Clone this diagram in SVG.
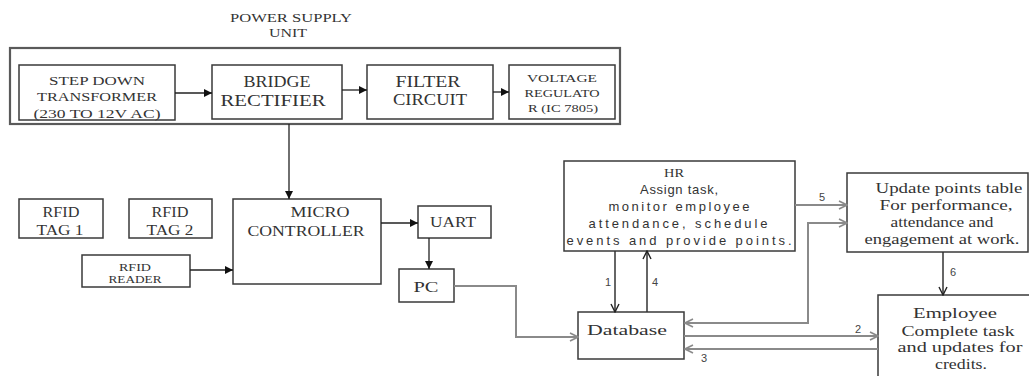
<svg xmlns="http://www.w3.org/2000/svg" width="1029" height="376" viewBox="0 0 1029 376">
<defs>
<style>
.box{fill:#fff;stroke:#3a3a3a;stroke-width:1.5}
.outer{fill:none;stroke:#5a5a5a;stroke-width:2.2}
.s{font-family:"Liberation Serif","DejaVu Serif","Times New Roman",serif;fill:#333;text-anchor:middle}
.a{font-family:"Liberation Sans","DejaVu Sans",Arial,sans-serif;fill:#333;text-anchor:middle}
.k{fill:none;stroke:#222;stroke-width:1.3}
.g{fill:none;stroke:#8a8a8a;stroke-width:2}
.gk{fill:none;stroke:#333;stroke-width:1.5}
.lbl{font-family:"Liberation Sans",Arial,sans-serif;font-size:11px;fill:#444;text-anchor:middle}
</style>
<marker id="tri" viewBox="0 0 10 10" refX="10" refY="5" markerWidth="9" markerHeight="8" markerUnits="userSpaceOnUse" orient="auto">
<path d="M0,0 L10,5 L0,10 z" fill="#111"/>
</marker>
<marker id="vg" viewBox="0 0 10 10" refX="9" refY="5" markerWidth="10" markerHeight="10" markerUnits="userSpaceOnUse" orient="auto-start-reverse">
<path d="M1,1 L9,5 L1,9" fill="none" stroke="#8a8a8a" stroke-width="1.6"/>
</marker>
<marker id="vk" viewBox="0 0 10 10" refX="9" refY="5" markerWidth="10" markerHeight="10" markerUnits="userSpaceOnUse" orient="auto">
<path d="M1,1 L9,5 L1,9" fill="none" stroke="#222" stroke-width="1.4"/>
</marker>
</defs>
<rect width="1029" height="376" fill="#fff"/>

<g id="psu">
<text class="s" x="291" y="22" font-size="12" textLength="122" lengthAdjust="spacingAndGlyphs">POWER SUPPLY</text>
<text class="s" x="288" y="37" font-size="12" textLength="38" lengthAdjust="spacingAndGlyphs">UNIT</text>
<rect class="outer" x="10" y="48" width="610" height="76"/>
</g>
<g id="stepdown">
<rect class="box" x="19" y="65" width="156" height="55"/>
<text class="s" x="97" y="85" font-size="13" textLength="96" lengthAdjust="spacingAndGlyphs">STEP DOWN</text>
<text class="s" x="97" y="101" font-size="13" textLength="120" lengthAdjust="spacingAndGlyphs">TRANSFORMER</text>
<text class="s" x="97" y="118" font-size="13" textLength="127" lengthAdjust="spacingAndGlyphs">(230 TO 12V AC)</text>
</g>
<g id="bridge">
<rect class="box" x="212" y="65" width="130" height="54"/>
<text class="s" x="277" y="87" font-size="16" textLength="67" lengthAdjust="spacingAndGlyphs">BRIDGE</text>
<text class="s" x="273" y="106" font-size="16" textLength="105" lengthAdjust="spacingAndGlyphs">RECTIFIER</text>
</g>
<g id="filter">
<rect class="box" x="367" y="65" width="126" height="54"/>
<text class="s" x="428" y="87" font-size="16" textLength="65" lengthAdjust="spacingAndGlyphs">FILTER</text>
<text class="s" x="430" y="105" font-size="16" textLength="74" lengthAdjust="spacingAndGlyphs">CIRCUIT</text>
</g>
<g id="regulator">
<rect class="box" x="509" y="65" width="106" height="54"/>
<text class="s" x="562" y="82" font-size="11" textLength="70" lengthAdjust="spacingAndGlyphs">VOLTAGE</text>
<text class="s" x="562" y="97" font-size="11" textLength="75" lengthAdjust="spacingAndGlyphs">REGULATO</text>
<text class="s" x="563" y="112" font-size="11" textLength="70" lengthAdjust="spacingAndGlyphs">R (IC 7805)</text>
</g>
<g id="tag1">
<rect class="box" x="19" y="199" width="84" height="39"/>
<text class="s" x="61" y="217" font-size="14" textLength="37" lengthAdjust="spacingAndGlyphs">RFID</text>
<text class="s" x="60" y="235" font-size="14" textLength="47" lengthAdjust="spacingAndGlyphs">TAG 1</text>
</g>
<g id="tag2">
<rect class="box" x="129" y="199" width="83" height="39"/>
<text class="s" x="170" y="217" font-size="14" textLength="37" lengthAdjust="spacingAndGlyphs">RFID</text>
<text class="s" x="170" y="235" font-size="14" textLength="47" lengthAdjust="spacingAndGlyphs">TAG 2</text>
</g>
<g id="reader">
<rect class="box" x="82" y="255" width="108" height="32"/>
<text class="s" x="135" y="271" font-size="10" textLength="32" lengthAdjust="spacingAndGlyphs">RFID</text>
<text class="s" x="135" y="283" font-size="10" textLength="53" lengthAdjust="spacingAndGlyphs">READER</text>
</g>
<g id="micro">
<rect class="box" x="233" y="199" width="148" height="85"/>
<text class="s" x="320" y="217" font-size="15" textLength="59" lengthAdjust="spacingAndGlyphs">MICRO</text>
<text class="s" x="306" y="236" font-size="15" textLength="117" lengthAdjust="spacingAndGlyphs">CONTROLLER</text>
</g>
<g id="uart">
<rect class="box" x="418" y="206" width="73" height="32"/>
<text class="s" x="453" y="227" font-size="14" textLength="46" lengthAdjust="spacingAndGlyphs">UART</text>
</g>
<g id="pc">
<rect class="box" x="399" y="269" width="55" height="33"/>
<text class="s" x="426" y="292" font-size="14" textLength="25" lengthAdjust="spacingAndGlyphs">PC</text>
</g>
<g id="database">
<rect class="box" x="578" y="312" width="106" height="47"/>
<text class="s" x="627" y="335" font-size="14" textLength="80" lengthAdjust="spacingAndGlyphs">Database</text>
</g>
<g id="hr">
<rect class="box" x="564" y="161" width="231" height="90"/>
<text class="s" x="674" y="177" font-size="12" textLength="20" lengthAdjust="spacingAndGlyphs">HR</text>
<text class="a" x="679" y="194" font-size="13" textLength="78">Assign task,</text>
<text class="a" x="679" y="211" font-size="13" textLength="141">monitor employee</text>
<text class="a" x="678" y="228" font-size="13" textLength="179">attendance, schedule</text>
<text class="a" x="679" y="245" font-size="13" textLength="225">events and provide points.</text>
</g>
<g id="update">
<rect class="box" x="847" y="173" width="181" height="79"/>
<text class="s" x="949" y="193" font-size="15" textLength="147" lengthAdjust="spacingAndGlyphs">Update points table</text>
<text class="s" x="946" y="210" font-size="15" textLength="133" lengthAdjust="spacingAndGlyphs">For performance,</text>
<text class="s" x="942" y="227" font-size="15" textLength="103" lengthAdjust="spacingAndGlyphs">attendance and</text>
<text class="s" x="942" y="244" font-size="15" textLength="155" lengthAdjust="spacingAndGlyphs">engagement at work.</text>
</g>
<g id="employee">
<rect class="box" x="878" y="295" width="160" height="90"/>
<text class="s" x="955" y="318" font-size="15" textLength="84" lengthAdjust="spacingAndGlyphs">Employee</text>
<text class="s" x="958" y="336" font-size="15" textLength="113" lengthAdjust="spacingAndGlyphs">Complete task</text>
<text class="s" x="960" y="352" font-size="15" textLength="125" lengthAdjust="spacingAndGlyphs">and updates for</text>
<text class="s" x="961" y="369" font-size="15" textLength="52" lengthAdjust="spacingAndGlyphs">credits.</text>
</g>

<g id="connectors">
<line class="k" x1="175" y1="93" x2="212" y2="93" marker-end="url(#tri)"/>
<line class="k" x1="342" y1="90" x2="367" y2="90" marker-end="url(#tri)"/>
<line class="k" x1="493" y1="92" x2="509" y2="92" marker-end="url(#tri)"/>
<line class="k" x1="289" y1="124" x2="289" y2="199" marker-end="url(#tri)"/>
<line class="k" x1="190" y1="270" x2="233" y2="270" marker-end="url(#tri)"/>
<line class="k" x1="381" y1="223" x2="418" y2="223" marker-end="url(#tri)"/>
<line class="k" x1="429" y1="238" x2="429" y2="269" marker-end="url(#tri)"/>
<polyline class="g" points="454,286 516,286 516,337 578,337" marker-end="url(#vg)"/>
<line class="gk" x1="615" y1="251" x2="615" y2="312" marker-end="url(#vk)"/>
<line class="gk" x1="647" y1="312" x2="647" y2="251" marker-end="url(#vk)"/>
<line class="g" x1="795" y1="205" x2="847" y2="205" marker-end="url(#vg)"/>
<polyline class="g" points="685,323 808,323 808,223 847,223" marker-start="url(#vg)" marker-end="url(#vg)"/>
<line class="g" x1="684" y1="336" x2="878" y2="336" marker-end="url(#vg)"/>
<line class="g" x1="878" y1="349" x2="685" y2="349" marker-end="url(#vg)"/>
<line class="gk" x1="943" y1="252" x2="943" y2="295" marker-end="url(#vk)"/>
<text class="lbl" x="608" y="286">1</text>
<text class="lbl" x="655" y="286">4</text>
<text class="lbl" x="822" y="201">5</text>
<text class="lbl" x="953" y="276">6</text>
<text class="lbl" x="858" y="333">2</text>
<text class="lbl" x="704" y="362">3</text>
</g>
</svg>
